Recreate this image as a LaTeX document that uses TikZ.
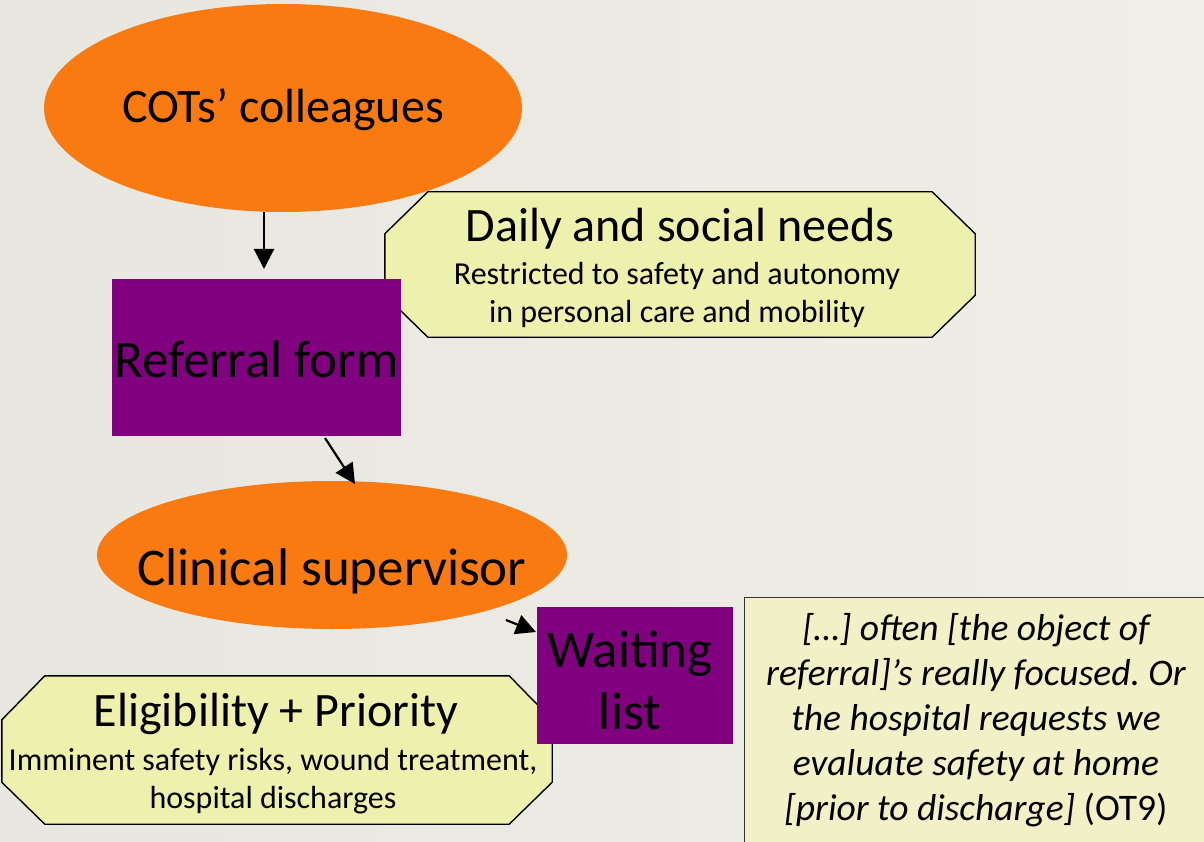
\documentclass[tikz,border=0pt]{standalone}
\usepackage{fontspec}
\setmainfont{Carlito}
\usetikzlibrary{arrows.meta,backgrounds,shapes.geometric}
\frenchspacing

\definecolor{paper}{HTML}{EFEEE7}
\definecolor{paperdark}{HTML}{E7E7E0}
\definecolor{oval}{HTML}{FA7A12}
\definecolor{plum}{HTML}{800080}
\definecolor{note}{HTML}{EEF0AE}
\definecolor{quotebg}{HTML}{F2F0C6}

\tikzset{
  actor/.style={ellipse, fill=oval, draw=none, inner sep=0pt},
  doc/.style={rectangle, fill=plum, draw=none, inner sep=0pt, text=black},
  bigtext/.style={font=\fontsize{50}{55}\selectfont},
  label/.style={rectangle, draw=none, inner sep=0pt, align=center},
  headtext/.style={label, font=\fontsize{48}{50}\selectfont},
  smalltext/.style={label, font=\fontsize{32}{38}\selectfont},
  octline/.style={draw=black, line width=1.4pt, fill=note, line join=miter},
  flow/.style={-{Triangle[length=20pt,width=20pt]}, line width=2.2pt, black},
  quote/.style={rectangle, draw=black!80, line width=1.3pt, fill=quotebg, inner sep=0pt},
}

\begin{document}
\begin{tikzpicture}[x=1pt,y=-1pt]
  \useasboundingbox (0,0) rectangle (1204,842);

  % paper background
  \begin{scope}[on background layer]
    \shade[left color=paperdark, right color=paper] (0,0) rectangle (1204,842);
  \end{scope}

  % actors
  \node[actor, minimum width=478, minimum height=208] (cots) at (283,108) {};
  \node[bigtext, font=\fontsize{48}{52}\selectfont] (cotslbl) at (283,110) {COTs’ colleagues};

  \node[actor, minimum width=470, minimum height=148] (clin) at (332,555) {};
  \node[bigtext, font=\fontsize{53}{58}\selectfont] (clinlbl) at (332,571) {Clinical supervisor};

  % documents
  \node[doc, minimum width=289, minimum height=157] (ref) at (256.5,357.5) {};
  \node[bigtext, font=\fontsize{53}{58}\selectfont] (reflbl) at (256.5,359) {Referral form};

  \node[doc, minimum width=196, minimum height=137] (wait) at (635,675.5) {};
  \node[label, font=\fontsize{53}{62}\selectfont] (waitlbl) at (630,680) {Waiting\\list};

  % chamfered notes
  \node[label, minimum width=590, minimum height=145] (daily) at (680,264.5) {};
  \begin{scope}[on background layer]
    \path[octline]
      ([xshift=43pt]daily.north west) -- ([xshift=-43pt]daily.north east)
      -- ([yshift=-42pt]daily.north east) -- ([yshift=42pt]daily.south east)
      -- ([xshift=-43pt]daily.south east) -- ([xshift=43pt]daily.south west)
      -- ([yshift=42pt]daily.south west) -- ([yshift=-42pt]daily.north west) -- cycle;
  \end{scope}
  \node[headtext] (dailyhead) at (680,229) {Daily and social needs};
  \node[smalltext] (dailytext) at (677,295)
    {Restricted to safety and autonomy\\in personal care and mobility};

  \node[label, minimum width=550, minimum height=148] (elig) at (277,750) {};
  \begin{scope}[on background layer]
    \path[octline]
      ([xshift=43pt]elig.north west) -- ([xshift=-43pt]elig.north east)
      -- ([yshift=-44pt]elig.north east) -- ([yshift=42pt]elig.south east)
      -- ([xshift=-43pt]elig.south east) -- ([xshift=43pt]elig.south west)
      -- ([yshift=42pt]elig.south west) -- ([yshift=-44pt]elig.north west) -- cycle;
  \end{scope}
  \node[headtext] (elighead) at (276,714) {Eligibility + Priority};
  \node[smalltext] (eligtext) at (273,781)
    {Imminent safety risks, wound treatment,\\hospital discharges};

  % interview excerpt
  \node[quote, minimum width=462, minimum height=250, anchor=north west] (quote) at (744,597) {};
  \node[label, font=\fontsize{37.5}{45}\selectfont\itshape] (quotetext) at (976,720)
    {[…] often [the object of\\referral]’s really focused. Or\\the hospital requests we\\evaluate safety at home\\{}[prior to discharge] {\upshape(OT9)}};

  % flow
  \coordinate (a1) at (cots.south -| 264,0);
  \coordinate (r0) at (264,269);
  \draw[flow] (a1) -- (r0);
  \coordinate (r1) at (325,438);
  \coordinate (c1) at (355,484);
  \draw[flow] (r1) -- (c1);
  \coordinate (c2) at (506,620);
  \coordinate (w1) at (536,632);
  \draw[flow] (c2) -- (w1);
\end{tikzpicture}
\end{document}
